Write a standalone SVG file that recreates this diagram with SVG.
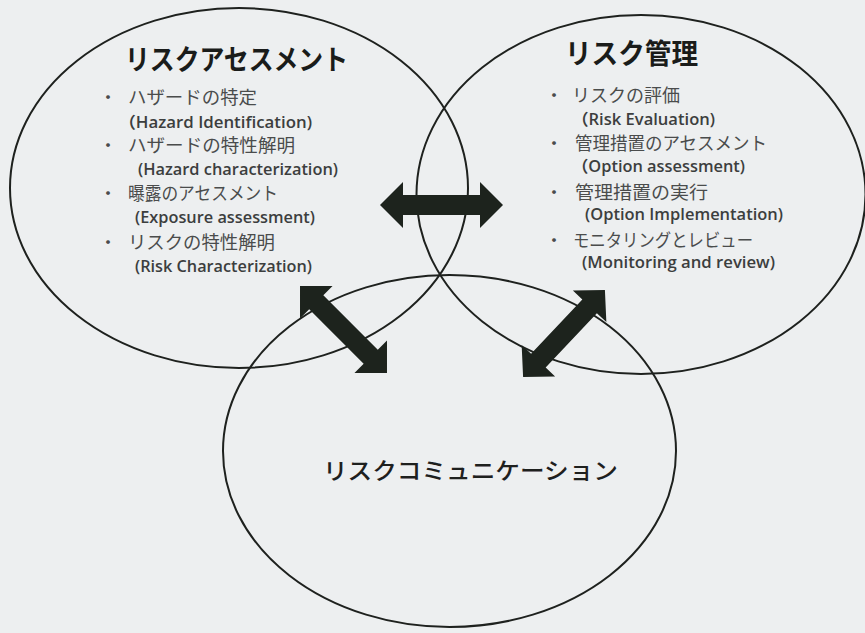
<svg xmlns="http://www.w3.org/2000/svg" xmlns:xlink="http://www.w3.org/1999/xlink" width="865" height="633" viewBox="0 0 865 633">
<style>
.bg{fill:#edeff0}
.ring{fill:none;stroke:#1e211e;stroke-width:2}
.title{font-family:"Noto Sans CJK JP","Noto Sans",sans-serif;font-weight:700;fill:#1a1c1a}
.sub{font-family:"Noto Sans CJK JP","Noto Sans",sans-serif;font-weight:500;fill:#1e201e}
.jp{font-family:"Noto Sans CJK JP","Noto Sans",sans-serif;font-size:18px;fill:#4a4c4c}
.en{font-family:"Open Sans","Noto Sans","Noto Sans CJK JP",sans-serif;font-size:16px;font-weight:600;fill:#3c3e3e}
.dot{font-family:"Noto Sans CJK JP",sans-serif;font-size:18px;fill:#4a4c4c;text-anchor:middle}
.arrow{fill:#1d231d}
</style>
<defs>
<polygon id="dbl" points="-61.5,0 -38.5,-23 -38.5,-10 38.5,-10 38.5,-23 61.5,0 38.5,23 38.5,10 -38.5,10 -38.5,23"/>
</defs>
<rect class="bg" x="0" y="0" width="865" height="633"/>

<g id="risk-assessment">
<ellipse class="ring" cx="239" cy="188" rx="229" ry="180"/>
<text class="title" x="125" y="70" font-size="28" textLength="223" lengthAdjust="spacingAndGlyphs">リスクアセスメント</text>
<text class="dot" x="108" y="104">・</text>
<text class="jp" x="128" y="104" textLength="129" lengthAdjust="spacingAndGlyphs">ハザードの特定</text>
<text class="en" x="119" y="128" textLength="193" lengthAdjust="spacingAndGlyphs">（Hazard Identification)</text>
<text class="dot" x="108" y="152">・</text>
<text class="jp" x="128" y="152" textLength="167" lengthAdjust="spacingAndGlyphs">ハザードの特性解明</text>
<text class="en" x="138" y="175" textLength="200" lengthAdjust="spacingAndGlyphs">(Hazard characterization)</text>
<text class="dot" x="108" y="200">・</text>
<text class="jp" x="128" y="200" textLength="150" lengthAdjust="spacingAndGlyphs">曝露のアセスメント</text>
<text class="en" x="135" y="223" textLength="180" lengthAdjust="spacingAndGlyphs">(Exposure assessment)</text>
<text class="dot" x="108" y="249">・</text>
<text class="jp" x="128" y="249" textLength="147" lengthAdjust="spacingAndGlyphs">リスクの特性解明</text>
<text class="en" x="135" y="272" textLength="177" lengthAdjust="spacingAndGlyphs">(Risk Characterization)</text>
</g>

<g id="risk-management">
<ellipse class="ring" cx="641" cy="194.5" rx="224.5" ry="179.5"/>
<text class="title" x="565" y="64" font-size="28" textLength="133" lengthAdjust="spacingAndGlyphs">リスク管理</text>
<text class="dot" x="554" y="102">・</text>
<text class="jp" x="572" y="102" textLength="108" lengthAdjust="spacingAndGlyphs">リスクの評価</text>
<text class="en" x="572" y="125" textLength="143" lengthAdjust="spacingAndGlyphs">（Risk Evaluation)</text>
<text class="dot" x="554" y="150">・</text>
<text class="jp" x="575" y="150" textLength="192" lengthAdjust="spacingAndGlyphs">管理措置のアセスメント</text>
<text class="en" x="572" y="172" textLength="173" lengthAdjust="spacingAndGlyphs">（Option assessment)</text>
<text class="dot" x="554" y="199">・</text>
<text class="jp" x="575" y="199" textLength="133" lengthAdjust="spacingAndGlyphs">管理措置の実行</text>
<text class="en" x="585" y="220" textLength="198" lengthAdjust="spacingAndGlyphs">(Option Implementation)</text>
<text class="dot" x="554" y="247">・</text>
<text class="jp" x="573" y="247" textLength="180" lengthAdjust="spacingAndGlyphs">モニタリングとレビュー</text>
<text class="en" x="582" y="268" textLength="193" lengthAdjust="spacingAndGlyphs">(Monitoring and review)</text>
</g>

<g id="risk-communication">
<ellipse class="ring" cx="449.5" cy="451" rx="226.5" ry="176"/>
<text class="sub" x="323" y="479" font-size="23" textLength="295" lengthAdjust="spacingAndGlyphs">リスクコミュニケーション</text>
</g>

<g id="connectors">
<use class="arrow" xlink:href="#dbl" href="#dbl" transform="translate(441.5,205)"/>
<use class="arrow" xlink:href="#dbl" href="#dbl" transform="translate(343.5,329.5) rotate(45)"/>
<use class="arrow" xlink:href="#dbl" href="#dbl" transform="translate(564,333.5) rotate(-46.7) scale(0.97,1)"/>
</g>
</svg>
